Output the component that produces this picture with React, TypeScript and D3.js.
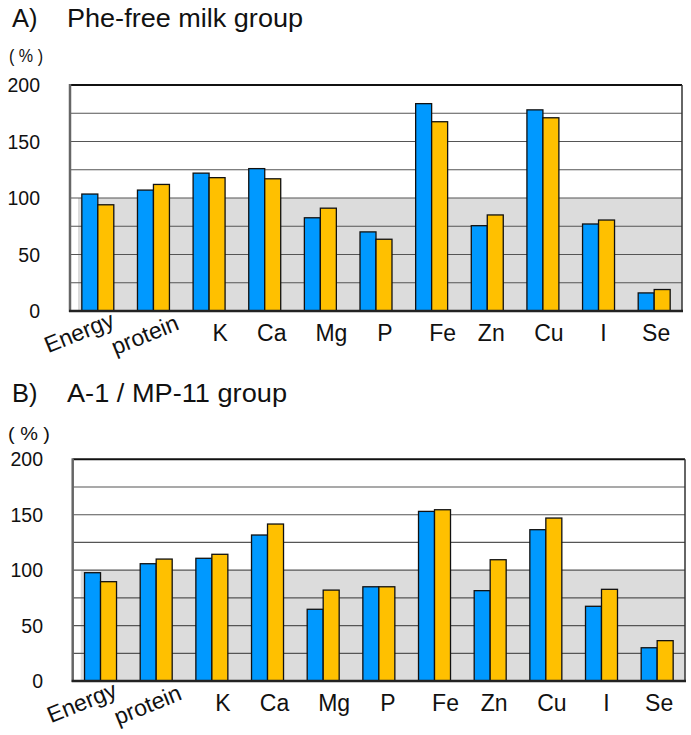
import React from 'react';
import * as d3 from 'd3';

const categories = ['Energy', 'protein', 'K', 'Ca', 'Mg', 'P', 'Fe', 'Zn', 'Cu', 'I', 'Se'];
const pheFreeBlue = [103.5, 107, 122, 126, 82.5, 70, 183.5, 75.5, 178, 77, 16];
const pheFreeYellow = [94, 112, 118, 117, 91, 63.5, 167.5, 85, 171, 80.5, 19];
const a1Blue = [97.7, 105.8, 110.7, 131.7, 64.7, 85, 153, 81.5, 136.5, 67.4, 30];
const a1Yellow = [89.6, 110, 114.3, 141.6, 82, 85, 154.5, 109.4, 147, 82.7, 36.4];
const yTickLabels = [0, 50, 100, 150, 200];
const gridValues = [25, 50, 75, 100, 125, 150, 175, 200];
const panelLetters = ['A)', 'B)'];
const panelTitles = ['Phe-free milk group', 'A-1 / MP-11 group'];
const unitLabel = '( % )';

const BLUE = '#0099FF';
const YELLOW = '#FFC000';
const FONT = '"Liberation Sans", Arial, Helvetica, sans-serif';

// layout: label x offsets from band centre (rotated labels use baseline end)
const labelDx = [18, 27, 11, 7, 11, 9, 11, 4, 6, 5, 2];

type PanelProps = {
  letter: string;
  title: string;
  titleWidth: number;
  blue: number[];
  yellow: number[];
  left: number;
  right: number;
  top: number;
  bottom: number;
  titleY: number;
  unitY: number;
  unitX: number;
  unitWidth: number;
  tickRight: number;
};

function Panel(p: PanelProps) {
  const y = d3.scaleLinear().domain([0, 200]).range([p.bottom, p.top]);
  const x = d3.scaleBand<string>().domain(categories).range([p.left, p.right]).paddingInner(0).paddingOuter(0);
  const inner = d3.scaleBand<string>().domain(['b', 'y']).range([0, x.bandwidth()]).paddingInner(0).paddingOuter(0.74);
  const shadeLeft = p.left + 8;
  return (
    <g>
      <text x={12} y={p.titleY} fontSize={25.5} fontFamily={FONT} fill="#111">{p.letter}</text>
      <text x={67} y={p.titleY} fontSize={25.5} fontFamily={FONT} fill="#111" textLength={p.titleWidth} lengthAdjust="spacingAndGlyphs">{p.title}</text>
      <text x={p.unitX} y={p.unitY} fontSize={17.5} fontFamily={FONT} fill="#111" textLength={p.unitWidth} lengthAdjust="spacingAndGlyphs">{unitLabel}</text>
      <rect x={shadeLeft} y={y(100)} width={p.right - shadeLeft} height={y(0) - y(100)} fill="#DCDCDC" />
      {gridValues.map((v) => (
        <line key={v} x1={p.left} x2={p.right} y1={y(v)} y2={y(v)} stroke={v === 200 ? '#111' : '#555'} strokeWidth={v === 200 ? 2 : 1.2} />
      ))}
      <line x1={p.right} x2={p.right} y1={y(200)} y2={y(0)} stroke="#333" strokeWidth={1.5} />
      {categories.map((c, i) => (
        <g key={c}>
          <rect x={(x(c) as number) + (inner('b') as number)} y={y(p.blue[i])} width={inner.bandwidth()} height={y(0) - y(p.blue[i])} fill={BLUE} stroke="#111" strokeWidth={1.3} />
          <rect x={(x(c) as number) + (inner('y') as number)} y={y(p.yellow[i])} width={inner.bandwidth()} height={y(0) - y(p.yellow[i])} fill={YELLOW} stroke="#111" strokeWidth={1.3} />
        </g>
      ))}
      <line x1={p.left} x2={p.left} y1={y(200) - 1} y2={y(0) + 1} stroke="#666" strokeWidth={2.5} />
      <line x1={p.left - 1} x2={p.right + 1} y1={y(0)} y2={y(0)} stroke="#222" strokeWidth={2.5} />
      {yTickLabels.map((v) => (
        <text key={v} x={p.tickRight} y={y(v)} dy="0.36em" textAnchor="end" fontSize={19.5} fontFamily={FONT} fill="#111">{v}</text>
      ))}
      {categories.map((c, i) => {
        const cx = (x(c) as number) + x.bandwidth() / 2 + labelDx[i];
        if (i < 2) {
          const ly = y(0) + (i === 0 ? 15 : 18);
          return (
            <text key={c} x={cx} y={ly} textAnchor="end" fontSize={23} fontFamily={FONT} fill="#111" transform={`rotate(-22 ${cx} ${ly})`}>{c}</text>
          );
        }
        return (
          <text key={c} x={cx} y={y(0) + 30} textAnchor="middle" fontSize={23} fontFamily={FONT} fill="#111">{c}</text>
        );
      })}
    </g>
  );
}

export default function App() {
  return (
    <svg width={691} height={735} style={{ position: 'absolute', left: 0, top: 0, background: '#fff' }}>
      <rect width={691} height={735} fill="#fff" />
      <Panel letter={panelLetters[0]} title={panelTitles[0]} titleWidth={236} blue={pheFreeBlue} yellow={pheFreeYellow}
        left={70} right={682} top={85} bottom={311} titleY={26.5} unitY={62} unitX={9} unitWidth={34} tickRight={40} />
      <Panel letter={panelLetters[1]} title={panelTitles[1]} titleWidth={220} blue={a1Blue} yellow={a1Yellow}
        left={72.7} right={685} top={459.3} bottom={681} titleY={401.5} unitY={440} unitX={8} unitWidth={42} tickRight={43} />
    </svg>
  );
}
